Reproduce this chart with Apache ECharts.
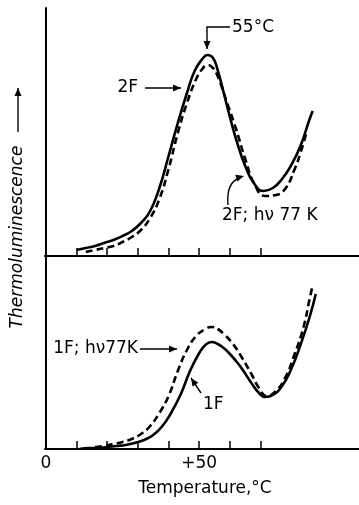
<!DOCTYPE html>
<html>
<head>
<meta charset="utf-8">
<script src="https://cdn.jsdelivr.net/npm/echarts/dist/echarts.min.js"></script>
<style>
  html, body { margin: 0; padding: 0; background: #fff; }
  #main { width: 359px; height: 505px; }
</style>
</head>
<body>
<div id="main"></div>
<script>
// temperatures (°C) and thermoluminescence (arbitrary units)
// upper panel: 2 flashes
const temps2F = [10, 13, 16, 19, 22, 25, 28, 31, 34, 37, 40, 43, 46, 48.5, 51, 52.7, 54.5, 56, 58, 60, 62, 65, 68, 71, 74, 77, 80, 83, 86, 87];
const tl2F = [6, 8, 10, 13, 16, 20, 25, 33, 45, 68, 100, 133, 163, 185, 197, 201, 198, 186, 163, 139, 117, 90, 72, 65, 68, 77, 91, 110, 137, 145];
const temps2FLight = [13, 16, 19, 22, 25, 28, 31, 34, 37, 40, 43, 46, 49, 51, 52.7, 54.5, 56, 59, 62, 65, 68, 71.5, 75, 78, 81, 83, 85];
const tl2FLight = [4, 6, 8, 10, 14, 19, 26, 38, 57, 87, 123, 153, 177, 187, 191, 188, 180, 154, 127, 97, 72, 60, 61, 67, 86, 103, 124];

// lower panel: 1 flash
const temps1F = [11, 14, 17, 20, 23, 26, 29, 32, 35, 38, 41, 44, 47, 50, 52, 54, 56, 58, 60, 62, 64, 67, 69.5, 71.5, 74, 77, 80, 83, 86, 88];
const tl1F = [0, 1, 1, 2, 3, 4, 6, 9, 14, 23, 37, 55, 78, 96, 104, 107, 105, 101, 95, 88, 80, 66, 56, 52, 54, 63, 80, 104, 132, 155];
const temps1FLight = [16, 19, 22, 25, 28, 31, 34, 37, 40, 43, 46, 49, 52, 54, 56, 58, 61, 64, 67, 69.5, 72, 75, 78, 81, 84, 86, 87];
const tl1FLight = [2, 3, 5, 7, 10, 15, 23, 36, 53, 78, 99, 113, 120, 122, 120, 115, 105, 91, 75, 61, 53, 58, 71, 94, 122, 150, 164];

const tickTemps = [10, 20, 30, 40, 50, 60, 70];
const labelTemps = [0, 50];

const FONT = 'DejaVu Sans';
const INK = '#000';

const zip = (xs, ys) => xs.map((x, i) => [x, ys[i]]);

// arrow head polygon, tip at (x, y), pointing along (dx, dy)
function head(x, y, dx, dy) {
  const len = Math.hypot(dx, dy);
  const ux = dx / len, uy = dy / len;
  const L = 8, W = 3.5;
  const bx = x - ux * L, by = y - uy * L;
  return {
    type: 'polygon',
    shape: { points: [[x, y], [bx - uy * W, by + ux * W], [bx + uy * W, by - ux * W]] },
    style: { fill: INK }
  };
}

function arrow(points) {
  const n = points.length;
  const a = points[n - 2], b = points[n - 1];
  return [
    { type: 'polyline', shape: { points: points }, style: { stroke: INK, lineWidth: 1.4, fill: null } },
    head(b[0], b[1], b[0] - a[0], b[1] - a[1])
  ];
}

function label(text, x, y, align, size) {
  return {
    type: 'text', x: x, y: y,
    style: {
      text: text, font: (size || 16) + 'px "' + FONT + '"', fill: INK,
      textAlign: align || 'left', textVerticalAlign: 'middle'
    }
  };
}

const axisLine = { show: true, lineStyle: { color: INK, width: 2 } };

const chart = echarts.init(document.getElementById('main'));

chart.setOption({
  animation: false,
  backgroundColor: '#fff',
  grid: [
    { left: 45, top: 8, width: 314, height: 248 },
    { left: 45, top: 256, width: 314, height: 193 }
  ],
  xAxis: [0, 1].map(i => ({
    type: 'value',
    gridIndex: i,
    min: -0.3,
    max: 102.1,
    axisLine: axisLine,
    axisTick: { show: true, inside: true, length: 8, customValues: tickTemps, lineStyle: { color: INK, width: 1.5 } },
    axisLabel: i === 0 ? { show: false } : {
      customValues: labelTemps,
      formatter: v => (v > 0 ? '+' + v : String(v)),
      color: INK, fontSize: 17, fontFamily: FONT, margin: 6
    },
    splitLine: { show: false },
    name: i === 0 ? '' : 'Temperature,°C',
    nameLocation: 'middle',
    nameGap: 31,
    nameTextStyle: { color: INK, fontSize: 17, fontFamily: FONT, padding: [0, 0, 0, 6] }
  })),
  yAxis: [
    { type: 'value', gridIndex: 0, min: 0, max: 248 },
    { type: 'value', gridIndex: 1, min: 0, max: 193 }
  ].map(a => Object.assign(a, {
    axisLine: axisLine,
    axisTick: { show: false },
    axisLabel: { show: false },
    splitLine: { show: false }
  })),
  series: [
    { name: '2F', data: zip(temps2F, tl2F), xAxisIndex: 0, yAxisIndex: 0, dash: false },
    { name: '2F; hν 77 K', data: zip(temps2FLight, tl2FLight), xAxisIndex: 0, yAxisIndex: 0, dash: true },
    { name: '1F', data: zip(temps1F, tl1F), xAxisIndex: 1, yAxisIndex: 1, dash: false },
    { name: '1F; hν77K', data: zip(temps1FLight, tl1FLight), xAxisIndex: 1, yAxisIndex: 1, dash: true }
  ].map(s => ({
    type: 'line',
    name: s.name,
    data: s.data,
    xAxisIndex: s.xAxisIndex,
    yAxisIndex: s.yAxisIndex,
    smooth: 0.5,
    showSymbol: false,
    lineStyle: { color: INK, width: 2.6, type: s.dash ? [7, 4] : 'solid' }
  })),
  graphic: [
    // y axis title
    {
      type: 'text', x: 18, y: 237, rotation: Math.PI / 2,
      style: { text: 'Thermoluminescence', font: 'italic 17px "' + FONT + '"', fill: INK, textAlign: 'center', textVerticalAlign: 'middle' }
    },
    ...arrow([[18, 132], [18, 88]]),
    // upper panel notes
    label('55°C', 232, 28, 'left', 17),
    ...arrow([[230, 27], [207, 27], [207, 49]]),
    label('2F', 138, 88, 'right', 17),
    ...arrow([[145, 88], [181, 88]]),
    label('2F; hν 77 K', 222, 216, 'left', 17),
    { type: 'bezierCurve', shape: { x1: 228, y1: 205, cpx1: 226, cpy1: 182, x2: 240, y2: 178 }, style: { stroke: INK, lineWidth: 1.4, fill: null } },
    head(244, 176, 14, -4),
    // lower panel notes
    label('1F; hν77K', 138, 349, 'right', 17),
    ...arrow([[140, 349], [177, 349]]),
    label('1F', 203, 405, 'left', 17),
    ...arrow([[201, 393], [191, 378]])
  ]
});
</script>
</body>
</html>
